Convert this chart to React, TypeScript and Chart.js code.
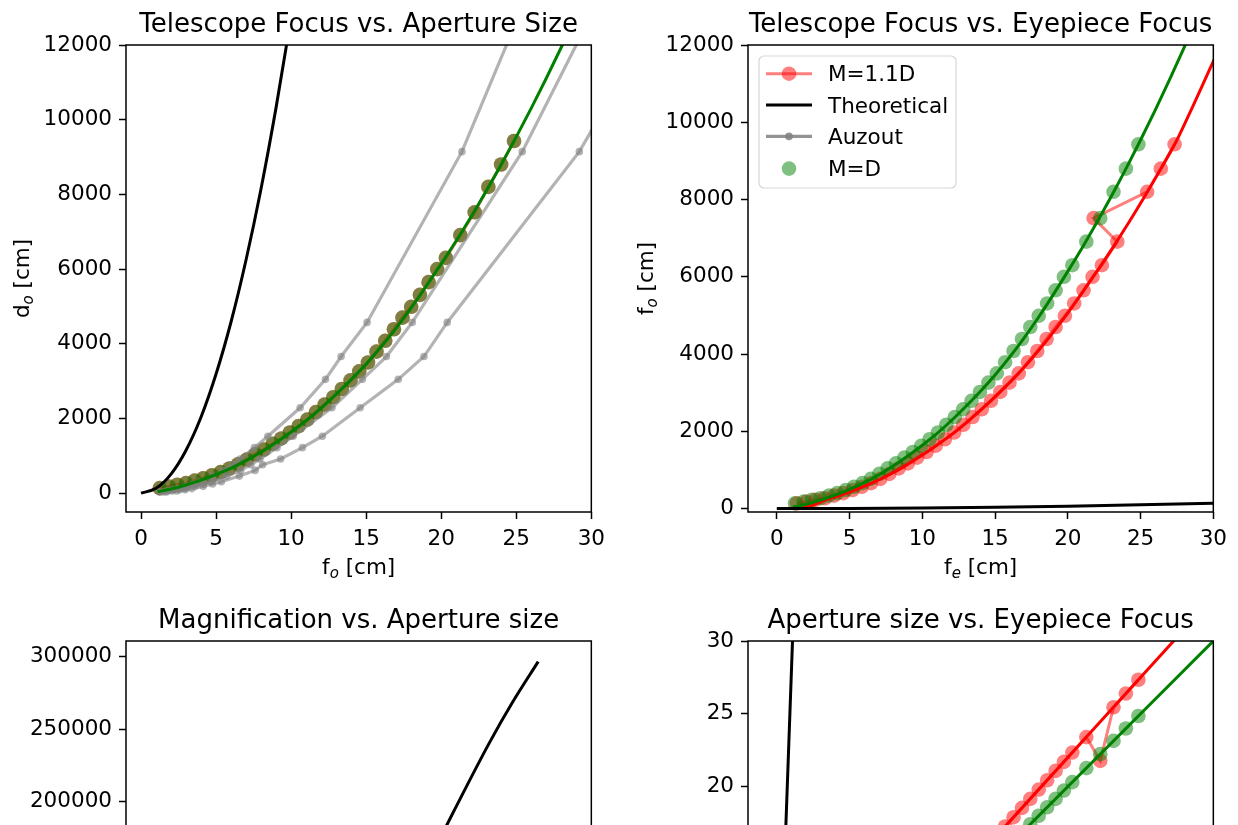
import React, { useEffect, useRef } from "react";
import { Chart, registerables } from "chart.js";

Chart.register(...registerables);

const FONT = "'DejaVu Sans', 'Liberation Sans', Arial, sans-serif";

// ---------------- data ----------------
// aperture d [cm] and objective focus f_o [cm] of the sample telescopes
const apertureD = [1.25, 1.85, 2.42, 3.0, 3.58, 4.15, 4.73, 5.31, 5.89, 6.46, 7.04, 7.62, 8.19, 8.77, 9.35, 9.92, 10.5, 11.08, 11.65, 12.23, 12.81, 13.38, 13.96, 14.54, 15.12, 15.69, 16.27, 16.85, 17.42, 18.0, 18.58, 19.16, 19.73, 20.31, 21.27, 22.23, 23.14, 23.99, 24.85];
const objectiveFo = [135, 180, 225, 268, 335, 400, 480, 565, 660, 770, 900, 1040, 1170, 1320, 1465, 1625, 1795, 1970, 2170, 2370, 2570, 2790, 3020, 3260, 3500, 3790, 4080, 4390, 4700, 4990, 5310, 5650, 6000, 6300, 6910, 7520, 8200, 8800, 9430];
// eyepiece focus f_e [cm] for M=1.1D
const eyepieceRed = [1.38, 2.04, 2.66, 3.3, 3.94, 4.57, 5.2, 5.84, 6.48, 7.11, 7.74, 8.38, 9.01, 9.65, 10.29, 10.91, 11.55, 12.19, 12.82, 13.45, 14.09, 14.72, 15.36, 15.99, 16.63, 17.26, 17.9, 18.54, 19.16, 19.8, 20.44, 21.08, 21.7, 22.34, 23.4, 21.77, 25.45, 26.39, 27.34];
// eyepiece focus f_e [cm] for M=D (same values as the apertures)
const eyepieceGreen = apertureD;

// Auzout table: tube length [cm] and three aperture columns [cm]
const auzoutLength = [30, 61, 91, 122, 183, 244, 305, 457, 610, 762, 914, 1219, 1524, 2286, 3048, 3658, 4572, 9144, 12192];
const auzoutA = [1.23, 1.74, 2.13, 2.46, 3.01, 3.47, 3.89, 4.76, 5.53, 6.1, 6.6, 7.55, 8.45, 10.6, 12.29, 13.33, 15.06, 21.38, 24.55];
const auzoutB = [1.48, 2.09, 2.56, 2.95, 3.61, 4.16, 4.67, 5.71, 6.64, 7.32, 7.92, 9.06, 10.14, 12.72, 14.75, 16.35, 18.07, 25.4, 29.24];
const auzoutC = [1.69, 2.39, 2.93, 3.38, 4.14, 4.77, 5.35, 6.55, 7.6, 8.1, 9.3, 10.75, 12.08, 14.6, 17.14, 18.85, 20.4, 29.2, 33.6];

// theoretical curve, panel 1
const theoD1 = [0, 1, 2, 3, 4, 5, 6, 7, 8, 9, 10];
const theoFo1 = [0, 130, 510, 1150, 2040, 3190, 4590, 6250, 8160, 10330, 12750];

// fitted curves
const fitGreenX = [1.1, 2, 3, 4, 5, 6, 7, 8, 9, 10, 11, 12, 13, 14, 15, 16, 17, 18, 19, 20, 21, 22, 23, 24, 25, 26, 27, 28, 29];
const fitGreenY = [40, 110, 220, 350, 500, 670, 870, 1100, 1360, 1640, 1940, 2280, 2650, 3040, 3460, 3920, 4420, 4960, 5540, 6140, 6760, 7410, 8090, 8800, 9540, 10310, 11110, 11940, 12800];
const fitRedX = [1.8, 2.5, 3.3, 4.4, 5.5, 6.6, 7.7, 8.8, 9.9, 11, 12.1, 13.2, 14.3, 15.4, 16.5, 17.6, 18.7, 19.8, 20.9, 22, 23.1, 24.2, 25.3, 26.4, 27.5, 28.6, 29.7, 30.8];
const fitRedY = [20, 90, 220, 350, 500, 670, 870, 1100, 1360, 1640, 1940, 2280, 2650, 3040, 3460, 3920, 4420, 4960, 5540, 6140, 6760, 7410, 8090, 8800, 9540, 10420, 11330, 12230];

// theoretical curve, panel 2
const theoFe2 = [0, 5, 10, 15, 20, 25, 30];
const theoFo2 = [0, 4, 16, 35, 62, 97, 140];

// magnification vs aperture, panel 3
const magD = [0, 5, 10, 15, 18, 19.5, 20.82, 23.18, 24.75, 26.46];
const magM = [0, 4000, 24000, 80000, 136000, 166000, 193000, 240000, 268500, 296550];

// panel 4 lines
const theoD4 = [0, 0.6, 1.1];
const theoFe4 = [0, 16.7, 30.6];
const fit4GreenX = [1, 30];
const fit4GreenY = [1, 30];
const fit4RedX = [0.9, 28];
const fit4RedY = [1, 30.8];

// tick labels
const ticks0to30 = [0, 5, 10, 15, 20, 25, 30];
const ticksFocus = [0, 2000, 4000, 6000, 8000, 10000, 12000];
const ticksMag = [0, 50000, 100000, 150000, 200000, 250000, 300000];

// ---------------- helpers ----------------
const pts = (xs: number[], ys: number[]) => xs.map((x, i) => ({ x, y: ys[i] }));

const RED_A = "rgba(255,0,0,0.5)";
const GREEN_A = "rgba(0,128,0,0.5)";
const GRAY_A = "rgba(128,128,128,0.6)";

function redLineDots(xs: number[], ys: number[]) {
  return { data: pts(xs, ys), showLine: true, borderColor: RED_A, borderWidth: 3, pointRadius: 7.3, pointHoverRadius: 7.3, pointBackgroundColor: RED_A, pointBorderWidth: 0, tension: 0 };
}
function greenDots(xs: number[], ys: number[]) {
  return { data: pts(xs, ys), showLine: false, pointRadius: 7.3, pointHoverRadius: 7.3, pointBackgroundColor: GREEN_A, pointBorderWidth: 0 };
}
function auzout(xs: number[], ys: number[]) {
  return { data: pts(xs, ys), showLine: true, borderColor: GRAY_A, borderWidth: 3.2, pointRadius: 3.8, pointHoverRadius: 3.8, pointBackgroundColor: GRAY_A, pointBorderWidth: 0, tension: 0 };
}
function curve(xs: number[], ys: number[], color: string, smooth = true) {
  return { data: pts(xs, ys), showLine: true, borderColor: color, borderWidth: 3, pointRadius: 0, pointHoverRadius: 0, cubicInterpolationMode: smooth ? "monotone" : "default", tension: 0, borderJoinStyle: "round" };
}

type Part = { t: string; sub?: boolean };

const PADL = 126, PADT = 45, PADR = 20, PADB = 75;

type Panel = {
  L: number; T: number; R: number; B: number;
  xMin: number; xMax: number; yMin: number; yMax: number;
  xTicks: number[]; yTicks: number[];
  title: string; xLabel?: Part[]; yLabel?: Part[]; yLabelOff?: number;
  legend?: boolean; datasets: any[];
};

const PANELS: Panel[] = [
  {
    L: 126, T: 45, R: 593, B: 512, xMin: -1, xMax: 30, yMin: -504, yMax: 12000,
    xTicks: ticks0to30, yTicks: ticksFocus, title: "Telescope Focus vs. Aperture Size",
    xLabel: [{ t: "f" }, { t: "o", sub: true }, { t: " [cm]" }],
    yLabel: [{ t: "d" }, { t: "o", sub: true }, { t: " [cm]" }], yLabelOff: 105,
    datasets: [
      redLineDots(apertureD, objectiveFo),
      greenDots(apertureD, objectiveFo),
      auzout(auzoutA, auzoutLength),
      auzout(auzoutB, auzoutLength),
      auzout(auzoutC, auzoutLength),
      curve(fitGreenX, fitGreenY, "#008000"),
      curve(theoD1, theoFo1, "#000000"),
    ],
  },
  {
    L: 748, T: 45, R: 1215, B: 512, xMin: -1.98, xMax: 30, yMin: -88, yMax: 12000,
    xTicks: ticks0to30, yTicks: ticksFocus, title: "Telescope Focus vs. Eyepiece Focus",
    xLabel: [{ t: "f" }, { t: "e", sub: true }, { t: " [cm]" }],
    yLabel: [{ t: "f" }, { t: "o", sub: true }, { t: " [cm]" }], yLabelOff: 103,
    legend: true,
    datasets: [
      redLineDots(eyepieceRed, objectiveFo),
      greenDots(eyepieceGreen, objectiveFo),
      curve(fitRedX, fitRedY, "#ff0000"),
      curve(fitGreenX, fitGreenY, "#008000"),
      curve(theoFe2, theoFo2, "#000000"),
    ],
  },
  {
    L: 126, T: 641, R: 593, B: 1107, xMin: -1, xMax: 30, yMin: -10600, yMax: 310800,
    xTicks: ticks0to30, yTicks: ticksMag, title: "Magnification vs. Aperture size",
    datasets: [curve(magD, magM, "#000000")],
  },
  {
    L: 748, T: 641, R: 1215, B: 1107, xMin: -1.98, xMax: 30, yMin: -2, yMax: 30,
    xTicks: ticks0to30, yTicks: ticks0to30, title: "Aperture size vs. Eyepiece Focus",
    datasets: [
      redLineDots(apertureD, eyepieceRed),
      greenDots(apertureD, eyepieceGreen),
      curve(fit4RedX, fit4RedY, "#ff0000", false),
      curve(fit4GreenX, fit4GreenY, "#008000", false),
      curve(theoD4, theoFe4, "#000000", false),
    ],
  },
];

function drawRich(ctx: CanvasRenderingContext2D, parts: Part[], size: number, cx: number, cy: number, rot: number) {
  ctx.save();
  ctx.translate(cx, cy);
  ctx.rotate(rot);
  const fonts = parts.map((p) => (p.sub ? `italic ${Math.round(size * 0.7)}px ${FONT}` : `${size}px ${FONT}`));
  let total = 0;
  const widths = parts.map((p, i) => {
    ctx.font = fonts[i];
    const w = ctx.measureText(p.t).width;
    total += w;
    return w;
  });
  let x = -total / 2;
  const base = size * 0.35;
  ctx.textAlign = "left";
  ctx.textBaseline = "alphabetic";
  ctx.fillStyle = "#000";
  parts.forEach((p, i) => {
    ctx.font = fonts[i];
    ctx.fillText(p.t, x, p.sub ? base + size * 0.2 : base);
    x += widths[i];
  });
  ctx.restore();
}

function drawLegend(ctx: CanvasRenderingContext2D, left: number, top: number) {
  const x0 = left + 11, y0 = top + 11, w = 197, h = 132, r = 5;
  ctx.save();
  ctx.beginPath();
  ctx.moveTo(x0 + r, y0);
  ctx.arcTo(x0 + w, y0, x0 + w, y0 + h, r);
  ctx.arcTo(x0 + w, y0 + h, x0, y0 + h, r);
  ctx.arcTo(x0, y0 + h, x0, y0, r);
  ctx.arcTo(x0, y0, x0 + w, y0, r);
  ctx.closePath();
  ctx.fillStyle = "rgba(255,255,255,0.8)";
  ctx.fill();
  ctx.strokeStyle = "rgba(204,204,204,0.8)";
  ctx.lineWidth = 1.2;
  ctx.stroke();

  const rows = [28.7, 60, 91.4, 123.6];
  const hx0 = left + 18, hx1 = left + 64, hc = left + 41, tx = left + 80;
  const line = (y: number, color: string, lw: number) => {
    ctx.beginPath();
    ctx.moveTo(hx0, y);
    ctx.lineTo(hx1, y);
    ctx.strokeStyle = color;
    ctx.lineWidth = lw;
    ctx.stroke();
  };
  const dot = (y: number, color: string, rad: number) => {
    ctx.beginPath();
    ctx.arc(hc, y, rad, 0, Math.PI * 2);
    ctx.fillStyle = color;
    ctx.fill();
  };
  const labels = ["M=1.1D", "Theoretical", "Auzout", "M=D"];
  const ys = rows.map((v) => top + v);
  line(ys[0], RED_A, 3);
  dot(ys[0], RED_A, 7.3);
  line(ys[1], "#000", 3);
  line(ys[2], "rgba(128,128,128,0.85)", 3.2);
  dot(ys[2], "rgba(128,128,128,0.85)", 3.8);
  dot(ys[3], GREEN_A, 7.3);
  ctx.fillStyle = "#000";
  ctx.font = `21.5px ${FONT}`;
  ctx.textAlign = "left";
  ctx.textBaseline = "alphabetic";
  labels.forEach((t, i) => ctx.fillText(t, tx, ys[i] + 7.7));
  ctx.restore();
}

function makeConfig(p: Panel): any {
  const n = p.datasets.length;
  const datasets = p.datasets.map((d, i) => ({ ...d, order: n - i }));
  const tickFont = { family: FONT, size: 21.5 };
  const grid = { display: true, drawOnChartArea: false, drawTicks: true, tickLength: 7, tickWidth: 1.5, tickColor: "#000" };
  const decor = {
    id: "decor",
    afterDraw(chart: any) {
      const ctx: CanvasRenderingContext2D = chart.ctx;
      const ca = chart.chartArea;
      ctx.save();
      ctx.strokeStyle = "#000";
      ctx.lineWidth = 1.5;
      ctx.strokeRect(ca.left, ca.top, ca.right - ca.left, ca.bottom - ca.top);
      ctx.fillStyle = "#000";
      ctx.font = `26px ${FONT}`;
      ctx.textAlign = "center";
      ctx.textBaseline = "alphabetic";
      ctx.fillText(p.title, (ca.left + ca.right) / 2, ca.top - 13);
      ctx.restore();
      if (p.xLabel) drawRich(ctx, p.xLabel, 21.5, (ca.left + ca.right) / 2, ca.bottom + 54, 0);
      if (p.yLabel) drawRich(ctx, p.yLabel, 21.5, ca.left - (p.yLabelOff || 105), (ca.top + ca.bottom) / 2, -Math.PI / 2);
      if (p.legend) drawLegend(ctx, ca.left, ca.top);
    },
  };
  return {
    type: "scatter",
    data: { datasets },
    options: {
      animation: false,
      responsive: false,
      devicePixelRatio: 1,
      events: [],
      layout: { padding: { top: PADT, right: PADR, left: 0, bottom: 0 } },
      plugins: { legend: { display: false }, tooltip: { enabled: false }, title: { display: false } },
      scales: {
        x: {
          type: "linear", min: p.xMin, max: p.xMax,
          afterFit: (s: any) => { s.height = PADB; },
          afterBuildTicks: (s: any) => { s.ticks = p.xTicks.map((v) => ({ value: v })); },
          ticks: { autoSkip: false, maxRotation: 0, minRotation: 0, padding: 8, color: "#000", font: tickFont, callback: (v: any) => String(v) },
          grid, border: { display: false },
        },
        y: {
          type: "linear", min: p.yMin, max: p.yMax,
          afterFit: (s: any) => { s.width = PADL; },
          afterBuildTicks: (s: any) => { s.ticks = p.yTicks.map((v) => ({ value: v })); },
          ticks: { autoSkip: false, padding: 7, color: "#000", font: tickFont, callback: (v: any) => String(v) },
          grid, border: { display: false },
        },
      },
    },
    plugins: [decor],
  };
}

export default function App() {
  const refs = useRef<(HTMLCanvasElement | null)[]>([]);
  useEffect(() => {
    const charts = PANELS.map((p, i) => new Chart(refs.current[i] as HTMLCanvasElement, makeConfig(p)));
    return () => charts.forEach((c) => c.destroy());
  }, []);
  return (
    <div style={{ position: "fixed", left: 0, top: 0, width: 1238, height: 825, overflow: "hidden", background: "#fff" }}>
      {PANELS.map((p, i) => {
        const w = p.R - p.L + PADL + PADR;
        const h = p.B - p.T + PADT + PADB;
        return (
          <canvas
            key={i}
            ref={(el) => { refs.current[i] = el; }}
            width={w}
            height={h}
            style={{ position: "absolute", left: p.L - PADL, top: p.T - PADT, width: w, height: h }}
          />
        );
      })}
    </div>
  );
}
